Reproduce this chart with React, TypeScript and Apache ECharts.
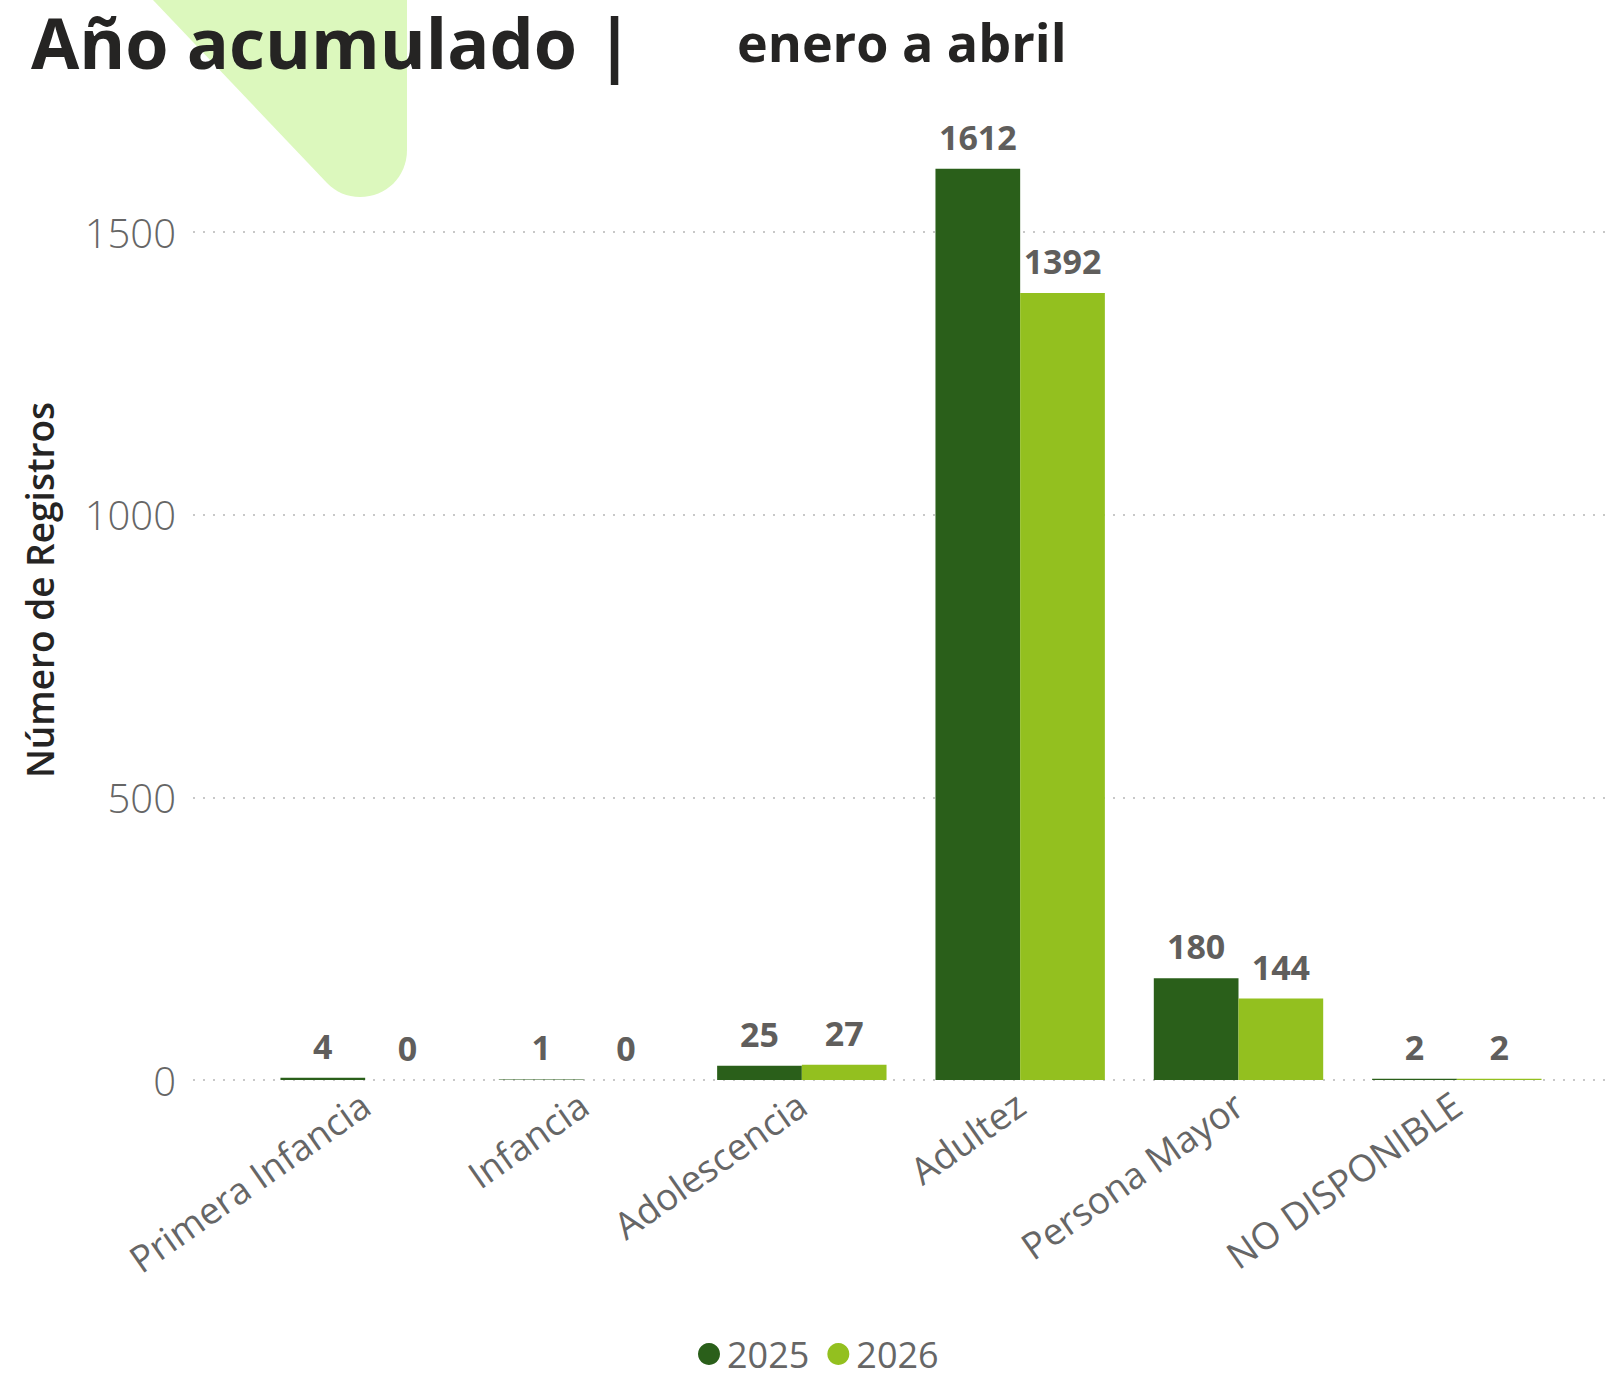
import React, { useEffect, useRef } from "react";
import * as echarts from "echarts";

const categories = ["Primera Infancia", "Infancia", "Adolescencia", "Adultez", "Persona Mayor", "NO DISPONIBLE"];
const values2025 = [4, 1, 25, 1612, 180, 2];
const values2026 = [0, 0, 27, 1392, 144, 2];
const seriesNames = ["2025", "2026"];
const colors = ["#2a5f1a", "#93c01f"];
const yTicks = [0, 500, 1000, 1500];

const FONT = "'Open Sans', 'Noto Sans', sans-serif";

export default function App() {
  const ref = useRef<HTMLDivElement>(null);
  useEffect(() => {
    if (!ref.current) return;
    const d = "M153 0 L407 0 L407 150 C407 177 386 197 360 197 C347 197 336 192 327 183 Z";
    echarts.graphic.registerShape("decoShape", echarts.graphic.extendPath(d, {}) as any);
    const chart = echarts.init(ref.current, null, { renderer: "svg" });
    const labelCfg = {
      show: true,
      position: "top",
      distance: 15,
      color: "#605e5c",
      fontFamily: FONT,
      fontWeight: "bold",
      fontSize: 34,
    };
    chart.setOption({
      animation: false,
      backgroundColor: "#ffffff",
      color: colors,
      textStyle: { fontFamily: FONT },
      grid: [
        { left: 256, right: 44, top: 62.4, bottom: 296 },
        { left: 193, right: 5, top: 232, bottom: 296 },
      ],
      legend: {
        data: seriesNames,
        left: 693,
        top: 1331,
        icon: "circle",
        itemWidth: 22,
        itemHeight: 22,
        itemGap: 18,
        textStyle: {
          fontSize: 36,
          lineHeight: 36,
          color: "#666666",
          fontFamily: FONT,
          padding: [0, 0, 0, 2],
        },
      },
      xAxis: [
        {
          type: "category",
          gridIndex: 0,
          data: categories,
          axisLine: { show: false },
          axisTick: { show: false },
          axisLabel: {
            rotate: 35,
            margin: 20,
            fontSize: 37,
            color: "#666666",
            fontFamily: FONT,
            fontWeight: "normal",
            interval: 0,
          },
        },
        {
          type: "category",
          gridIndex: 1,
          data: categories,
          show: false,
        },
      ],
      yAxis: [
        {
          type: "value",
          gridIndex: 0,
          min: 0,
          max: 1800,
          show: false,
          splitLine: { show: false },
        },
        {
          type: "value",
          gridIndex: 1,
          min: yTicks[0],
          max: yTicks[yTicks.length - 1],
          interval: 500,
          axisLine: { show: false },
          axisTick: { show: false },
          axisLabel: {
            margin: 17,
            fontSize: 40,
            color: "#666666",
            fontFamily: FONT,
            fontWeight: 300,
            formatter: (v: number) => String(v),
          },
          splitLine: {
            show: true,
            lineStyle: { color: "#c8c8c8", width: 2, type: [2, 8] },
          },
        },
      ],
      series: [
        {
          name: seriesNames[0],
          type: "bar",
          xAxisIndex: 0,
          yAxisIndex: 0,
          data: values2025,
          barWidth: 84.7,
          barGap: "0%",
          itemStyle: { color: colors[0] },
          label: labelCfg,
          z: 3,
        },
        {
          name: seriesNames[1],
          type: "bar",
          xAxisIndex: 0,
          yAxisIndex: 0,
          data: values2026,
          barWidth: 84.7,
          barGap: "0%",
          itemStyle: { color: colors[1] },
          label: labelCfg,
          z: 3,
        },
      ],
      graphic: [
        {
          type: "decoShape",
          x: 0,
          y: 0,
          z: 0,
          style: { fill: "#dcf8bd" },
        },
        {
          type: "text",
          x: 31,
          y: 42,
          z: 10,
          style: {
            text: "Año acumulado |",
            fontFamily: FONT,
            fontWeight: "bold",
            fontSize: 70,
            fill: "#252423",
            verticalAlign: "middle",
          },
        },
        {
          type: "text",
          x: 737,
          y: 41,
          z: 10,
          style: {
            text: "enero a abril",
            fontFamily: FONT,
            fontWeight: "bold",
            fontSize: 52,
            fill: "#252423",
            verticalAlign: "middle",
          },
        },
        {
          type: "text",
          x: 39,
          y: 590,
          rotation: Math.PI / 2,
          z: 10,
          style: {
            text: "Número de Registros",
            fontFamily: FONT,
            fontWeight: 600,
            fontSize: 37,
            fill: "#252423",
            align: "center",
            verticalAlign: "middle",
          },
        },
      ],
    });
    return () => chart.dispose();
  }, []);
  return (
    <div
      ref={ref}
      style={{ position: "fixed", left: 0, top: 0, width: 1610, height: 1376 }}
    />
  );
}
